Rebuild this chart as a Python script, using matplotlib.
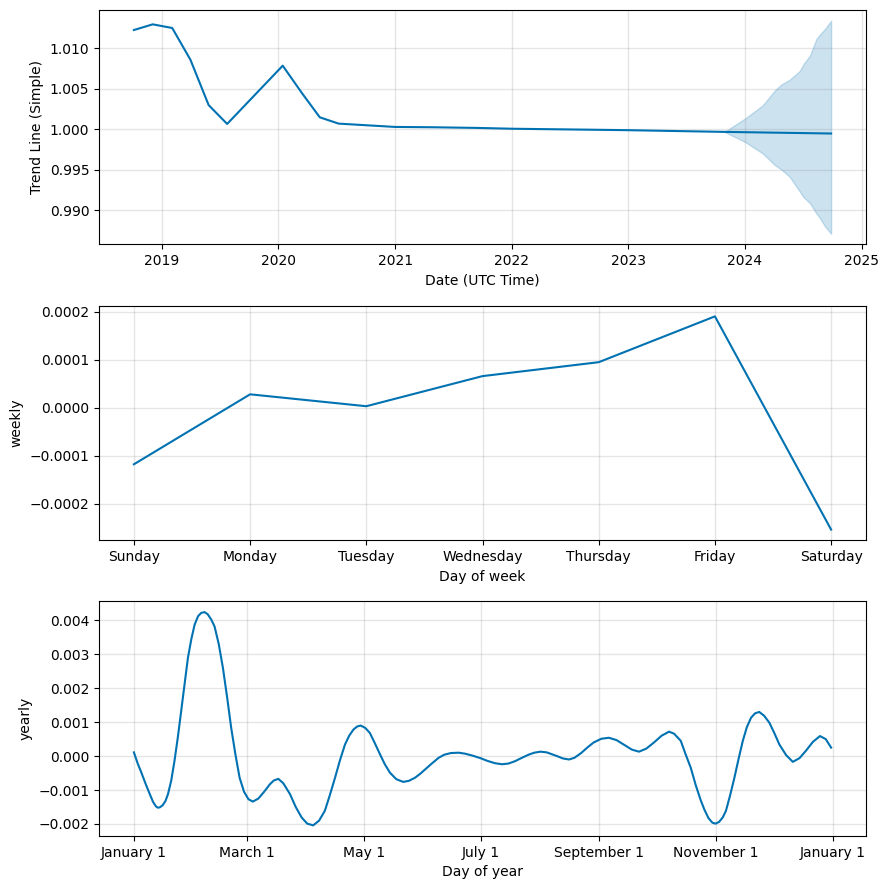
import matplotlib.pyplot as plt
import matplotlib.dates as mdates
import numpy as np
import pandas as pd


## Trend component
trendDates = ['2018-10-06', '2018-12-04', '2019-02-03', '2019-04-01', '2019-05-28',
              '2019-07-25', '2020-01-15', '2020-03-16', '2020-05-10', '2020-07-08',
              '2021-01-01', '2021-05-01', '2021-09-15', '2022-01-01', '2023-01-01',
              '2023-10-29', '2024-09-27']
trendValues = [1.01224, 1.01294, 1.01249, 1.00857, 1.00298,
               1.00065, 1.00784, 1.00441, 1.00147, 1.00069,
               1.00028, 1.00024, 1.00016, 1.00006, 0.99988,
               0.99967, 0.99947]

# Forecast uncertainty band (future part only)
bandDates = ['2023-10-29', '2024-01-01', '2024-02-26', '2024-04-04', '2024-04-25',
             '2024-05-20', '2024-06-21', '2024-07-03', '2024-07-23', '2024-08-12',
             '2024-08-23', '2024-09-08', '2024-09-27']
bandUpper = [0.99967, 1.00131, 1.00295, 1.00480, 1.00553,
             1.00610, 1.00720, 1.00807, 1.00910, 1.01115,
             1.01170, 1.01238, 1.01340]
bandLower = [0.99967, 0.99844, 0.99701, 0.99557, 0.99500,
             0.99414, 0.99230, 0.99160, 0.99086, 0.98960,
             0.98902, 0.98800, 0.98709]

## Weekly component
weekDays = ['Sunday', 'Monday', 'Tuesday', 'Wednesday', 'Thursday', 'Friday', 'Saturday']
weeklyValues = [-1.18e-4, 2.77e-5, 2.9e-6, 6.56e-5, 9.46e-5, 1.90e-4, -2.54e-4]

## Yearly component (day of year, value)
yearDays = [0, 2, 4, 6, 8, 10, 11.5, 12.5, 13.5, 15,
            16.5, 17.8, 19.5, 21.2, 23, 24.7, 26.5, 28.2, 30, 31.7,
            33.5, 35.2, 36.9, 38.5, 40.3, 42.1, 44.3, 46.5, 48.7, 50.8,
            53, 55.2, 57.5, 59.8, 62.1, 65, 68, 71, 73, 75.4,
            78, 81.5, 84.5, 87.6, 90.5, 93.6, 96.7, 99.7, 102.3, 105,
            107.6, 110.2, 112.4, 114.6, 116.5, 118.4, 120.8, 123.2, 125.8, 128.5,
            131, 133.7, 137, 140.6, 143.5, 146.7, 149.5, 152.1, 155.5, 159.1,
            162, 165.5, 169.6, 173, 177, 180.9, 184.5, 188.5, 192.2, 195.5,
            199, 202.6, 206, 209, 212.2, 215.5, 218, 220.9, 224, 227.2,
            230, 233.5, 236.7, 240, 244, 248, 252, 256.8, 260, 263.7,
            267.5, 271.5, 275.5, 279.4, 282, 285.5, 288, 290.7, 293.3, 295.8,
            297.8, 300, 302, 303.6, 305.5, 307.5, 309.1, 311.3, 313.5, 315.7,
            317.9, 320, 322.2, 324.3, 326.5, 329, 331.8, 334.5, 337, 340.5,
            344, 347.5, 350.9, 354.5, 358.2, 361.2, 364]
yearlyValues = [0.00011, -0.00022, -0.00050, -0.00080, -0.00108, -0.00135, -0.00148, -0.00152, -0.00151, -0.00145,
                -0.00132, -0.00112, -0.00072, -0.00014, 0.00058, 0.00133, 0.00213, 0.00289, 0.00345, 0.00387,
                0.00412, 0.00422, 0.00424, 0.00418, 0.00403, 0.00382, 0.00330, 0.00259, 0.00172, 0.00083,
                0.00005, -0.00064, -0.00105, -0.00127, -0.00134, -0.00125, -0.00105, -0.00083, -0.00072, -0.00067,
                -0.00080, -0.00112, -0.00150, -0.00181, -0.00199, -0.00204, -0.00190, -0.00161, -0.00115, -0.00064,
                -0.00012, 0.00034, 0.00060, 0.00078, 0.00087, 0.00090, 0.00083, 0.00068, 0.00038, 0.00005,
                -0.00024, -0.00049, -0.00068, -0.00076, -0.00073, -0.00064, -0.00052, -0.00039, -0.00022, -0.00005,
                0.00004, 0.00009, 0.00010, 0.00007, 0.00001, -0.00006, -0.00014, -0.00021, -0.00024, -0.00022,
                -0.00015, -0.00005, 0.00004, 0.00010, 0.00013, 0.00011, 0.00006, 0.00000, -0.00007, -0.00010,
                -0.00005, 0.00009, 0.00025, 0.00040, 0.00051, 0.00054, 0.00047, 0.00030, 0.00019, 0.00013,
                0.00022, 0.00040, 0.00060, 0.00072, 0.00066, 0.00045, 0.00006, -0.00034, -0.00085, -0.00128,
                -0.00157, -0.00183, -0.00196, -0.00199, -0.00194, -0.00180, -0.00161, -0.00115, -0.00064, -0.00008,
                0.00045, 0.00085, 0.00113, 0.00126, 0.00130, 0.00119, 0.00098, 0.00066, 0.00034, 0.00003,
                -0.00017, -0.00006, 0.00016, 0.00042, 0.00059, 0.00050, 0.00025]

lineColor = '#0072B2'

fig, axes = plt.subplots(3, 1, figsize=(8.89, 8.89), dpi=100)
fig.subplots_adjust(left=0.1114, right=0.9741, top=0.9888, bottom=0.0596, hspace=0.261)

# Trend
ax = axes[0]
ax.plot(pd.to_datetime(trendDates), trendValues, ls='-', c=lineColor)
ax.fill_between(pd.to_datetime(bandDates), bandLower, bandUpper, color=lineColor, alpha=0.2)
ax.xaxis.set_major_locator(mdates.YearLocator())
ax.xaxis.set_major_formatter(mdates.DateFormatter('%Y'))
ax.grid(True, which='major', c='gray', ls='-', lw=1, alpha=0.2)
ax.set_xlabel('Date (UTC Time)')
ax.set_ylabel('Trend Line (Simple)')

# Weekly
ax = axes[1]
ax.plot(range(len(weekDays)), weeklyValues, ls='-', c=lineColor)
ax.set_xticks(range(len(weekDays)))
ax.set_xticklabels(weekDays)
ax.grid(True, which='major', c='gray', ls='-', lw=1, alpha=0.2)
ax.set_xlabel('Day of week')
ax.set_ylabel('weekly')

# Yearly
ax = axes[2]
yearX = pd.Timestamp('2017-01-01') + pd.to_timedelta(yearDays, unit='D')
ax.plot(yearX, yearlyValues, ls='-', c=lineColor)
ax.xaxis.set_major_locator(mdates.MonthLocator(bymonth=range(1, 13, 2)))
ax.xaxis.set_major_formatter(plt.FuncFormatter(
    lambda x, pos=None: '{dt:%B} {dt.day}'.format(dt=mdates.num2date(x))))
ax.grid(True, which='major', c='gray', ls='-', lw=1, alpha=0.2)
ax.set_xlabel('Day of year')
ax.set_ylabel('yearly')

fig.savefig('out.png')
